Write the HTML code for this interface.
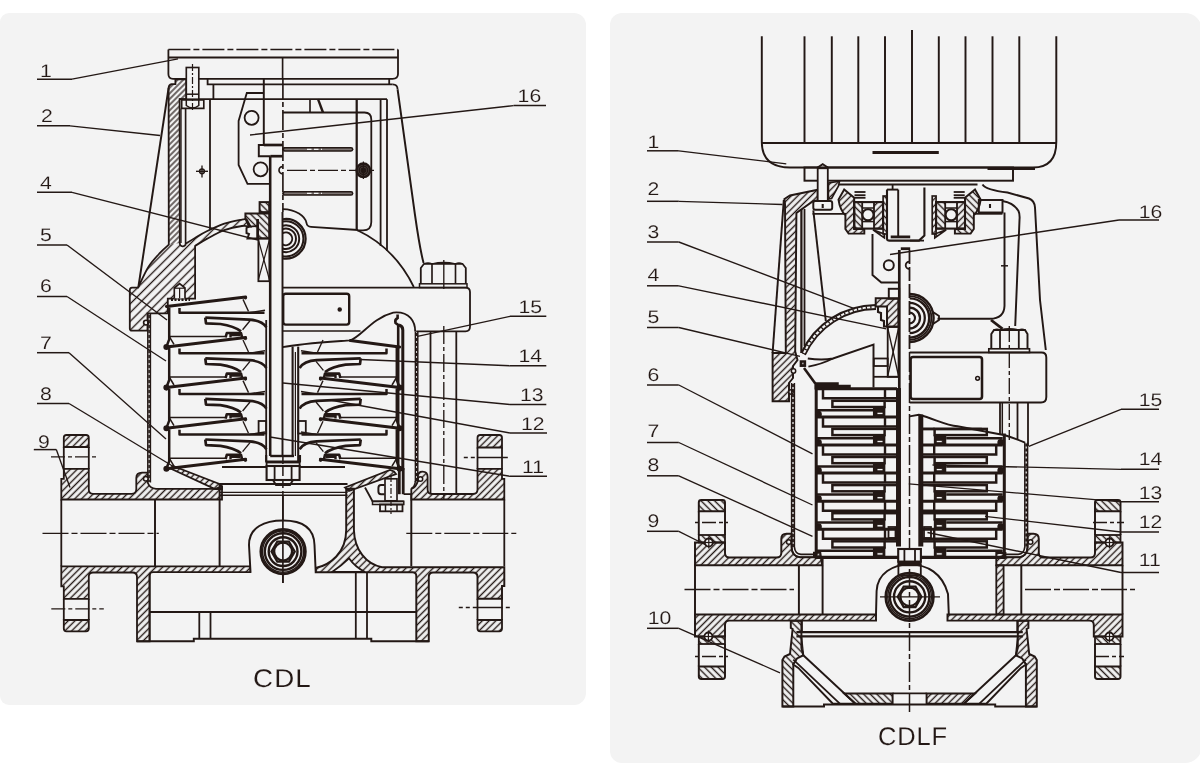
<!DOCTYPE html>
<html lang="en">
<head>
<meta charset="utf-8">
<title>CDL / CDLF structure</title>
<style>
html,body{margin:0;padding:0;background:#fff;}
body{width:1200px;height:779px;overflow:hidden;position:relative;font-family:"Liberation Sans",sans-serif;}
.panel{position:absolute;background:#f3f3f3;}
#p1{left:0;top:13px;width:585.6px;height:692px;border-radius:9px 12px 12px 9px;}
#p2{left:610px;top:13px;width:592px;height:750px;border-radius:12px 17px 17px 12px;}
svg{position:absolute;left:0;top:0;}
svg *{vector-effect:none;}
svg text{font-family:"Liberation Sans",sans-serif;fill:#231815;text-rendering:geometricPrecision;}
svg{will-change:transform;}
</style>
</head>
<body>
<div class="panel" id="p1"></div>
<div class="panel" id="p2"></div>
<svg width="1200" height="779" viewBox="0 0 1200 779">
<defs>
<pattern id="h1" width="4.7" height="4.7" patternUnits="userSpaceOnUse" patternTransform="rotate(-45)"><line x1="0" y1="2.35" x2="4.7" y2="2.35" style="stroke:#231815;stroke-width:1.4"/></pattern>
<pattern id="h2" width="4.8" height="4.8" patternUnits="userSpaceOnUse" patternTransform="rotate(-45)"><line x1="0" y1="2.4" x2="4.8" y2="2.4" style="stroke:#231815;stroke-width:1.4"/></pattern>
<pattern id="h3" width="4.7" height="4.7" patternUnits="userSpaceOnUse" patternTransform="rotate(45)"><line x1="0" y1="2.35" x2="4.7" y2="2.35" style="stroke:#231815;stroke-width:1.4"/></pattern>
<pattern id="h4" width="4.8" height="4.8" patternUnits="userSpaceOnUse" patternTransform="rotate(45)"><line x1="0" y1="2.4" x2="4.8" y2="2.4" style="stroke:#231815;stroke-width:1.4"/></pattern>
<pattern id="h5" width="4" height="4" patternUnits="userSpaceOnUse" patternTransform="rotate(-45)"><line x1="0" y1="2" x2="4" y2="2" style="stroke:#231815;stroke-width:1.25"/></pattern>
<pattern id="h6" width="6.2" height="6.2" patternUnits="userSpaceOnUse" patternTransform="rotate(-45)"><line x1="0" y1="3.1" x2="6.2" y2="3.1" style="stroke:#231815;stroke-width:1.35"/></pattern>
</defs>
<g fill="none" stroke="#231815">
<path d="M168.4,49.5 V74 Q168.4,78.8 173,78.8 H392.5 Q398,78.8 398,74 V49.5" stroke-width="1.8"/>
<line x1="168.4" y1="57.5" x2="398" y2="57.5" stroke-width="1.8"/>
<line x1="168.4" y1="49.5" x2="398" y2="49.5" stroke-width="1.65" stroke-dasharray="22 3 6 3"/>
<line x1="282.6" y1="57.5" x2="282.6" y2="79" stroke-width="1.65"/>
<line x1="282.9" y1="79" x2="282.9" y2="212" stroke-width="1.65" stroke-dasharray="20 3 5 3"/>
<line x1="282.9" y1="455" x2="282.9" y2="495" stroke-width="1.5" stroke-dasharray="9 3"/>
<line x1="282.9" y1="495" x2="282.9" y2="583" stroke-width="1.65"/>
<path d="M207.6,78.8 L207.6,84.4 L392.6,84.4" stroke-width="1.8"/>
<path d="M389.2,78.8 V84.4 M392.6,84.4 Q397.6,84.4 397.6,89.5" stroke-width="1.8"/>
<line x1="213.4" y1="84.4" x2="213.4" y2="99.2" stroke-width="1.8"/>
<line x1="179.2" y1="99.2" x2="387" y2="99.2" stroke-width="1.8"/>
<line x1="210" y1="99.2" x2="210" y2="229" stroke-width="1.8"/>
<path d="M175.4,79.4 V84.2 H171.5 Q168.8,84.6 168.6,88 L168.8,244.7 L179.8,243 L179.6,99.2 H186.3 V79.4 Z" stroke-width="1.5" fill="url(#h5)" stroke="none"/>
<path d="M179.8,243 L168.8,244.7 C167.33,246.07 163.4,249.2 160,252.9 C156.6,256.6 151.9,261.45 148.4,266.9 C144.9,272.35 140.57,282.48 139,285.6 L138,287.6 H132 Q129.8,287.8 129.8,290 V328.4 Q129.8,330.6 132,330.6 H147.5 V313.4 H167.8 V298.6 H195.1 L195.1,245.9 C197.05,244.73 201.93,241.53 206.8,238.9 C211.67,236.27 218.45,232.25 224.3,230.1 C230.15,227.95 237.52,226.58 241.9,226 C246.28,225.42 249.15,226.5 250.6,226.6 L246.5,219.3 C245.73,219.35 245.6,218.87 241.9,219.6 C238.2,220.33 230.15,221.75 224.3,223.7 C218.45,225.65 211.68,228.92 206.8,231.3 C201.92,233.68 198.5,235.95 195,238 C191.5,240.05 187.33,242.67 185.8,243.6 A3,3 0 0 1 179.8,243 Z" stroke-width="1.5" fill="url(#h6)" stroke="none"/>
<path d="M175.4,79.4 V84.2 H171.5 Q168.8,84.6 168.6,88 L168.8,244.7 C167.33,246.07 163.4,249.2 160,252.9 C156.6,256.6 151.9,261.45 148.4,266.9 C144.9,272.35 140.57,282.48 139,285.6 L138,287.6 H132 Q129.8,287.8 129.8,290 V328.4 Q129.8,330.6 132,330.6 H147.5 V313.4 H167.8 V298.6 H195.1 L195.1,245.9 C197.05,244.73 201.93,241.53 206.8,238.9 C211.67,236.27 218.45,232.25 224.3,230.1 C230.15,227.95 237.52,226.58 241.9,226 C246.28,225.42 249.15,226.5 250.6,226.6 L246.5,219.3 C245.73,219.35 245.6,218.87 241.9,219.6 C238.2,220.33 230.15,221.75 224.3,223.7 C218.45,225.65 211.68,228.92 206.8,231.3 C201.92,233.68 198.5,235.95 195,238 C191.5,240.05 187.33,242.67 185.8,243.6 A3,3 0 0 1 179.8,243 L179.6,99.2 H186.3 V79.4 Z" stroke-width="1.8"/>
<circle cx="146" cy="322.6" r="2.4" stroke-width="1.65" fill="#f3f3f3"/>
<line x1="185.6" y1="108.4" x2="185.6" y2="243.6" stroke-width="1.65"/>
<line x1="181" y1="108.4" x2="181" y2="243" stroke-width="1.35"/>
<line x1="168.6" y1="88" x2="138.4" y2="287" stroke-width="1.95"/>
<path d="M397.6,89.5 L415,215 Q420,250 423.6,263" stroke-width="1.95"/>
<rect x="186.3" y="67.5" width="12.5" height="31.7" stroke-width="1.65" fill="#f3f3f3"/>
<line x1="186.3" y1="94.2" x2="198.8" y2="94.2" stroke-width="1.5"/>
<line x1="192.5" y1="64" x2="192.5" y2="110" stroke-width="1.2" stroke-dasharray="7 2 2 2"/>
<path d="M181.7,100 H203.8 V108.4 H181.7 Z" stroke-width="1.65"/>
<path d="M186.3,100 V105.5 Q192.5,110.6 198.8,105.5 V100" stroke-width="1.5"/>
<circle cx="202" cy="171.3" r="2.4" stroke-width="1.5"/>
<line x1="196" y1="171.3" x2="208" y2="171.3" stroke-width="1.35"/>
<line x1="202" y1="165.5" x2="202" y2="177.5" stroke-width="1.35"/>
<path d="M263.8,79 L263.8,145 L258.8,145 L258.8,156.2 L270.3,156.2" stroke-width="1.95"/>
<line x1="263.8" y1="145" x2="282.6" y2="145" stroke-width="2.7"/>
<line x1="270.3" y1="156.2" x2="282.6" y2="156.2" stroke-width="2.7"/>
<line x1="270.2" y1="156.2" x2="270.2" y2="456" stroke-width="2.55"/>
<line x1="282.5" y1="212" x2="282.5" y2="455" stroke-width="1.95"/>
<path d="M263.8,93 H246.8 L238.6,121 V165 L247.5,183.8 H270" stroke-width="1.8"/>
<circle cx="251.6" cy="117.8" r="7" stroke-width="1.8"/>
<circle cx="260.6" cy="169.3" r="7" stroke-width="1.8"/>
<path d="M282.6,166.6 A3.6,3.6 0 0 0 282.6,173.8" stroke-width="1.65"/>
<path d="M282.6,112.5 H364.5 Q371.3,112.5 371.3,119.5 V222 Q371.3,230.4 363,230.4 H357" stroke-width="1.8"/>
<line x1="310" y1="99.2" x2="310" y2="112.5" stroke-width="1.65"/>
<line x1="318" y1="99.2" x2="323" y2="112.5" stroke-width="2.4"/>
<line x1="356.7" y1="99.2" x2="356.7" y2="230" stroke-width="2.25"/>
<line x1="380.6" y1="99.2" x2="380.6" y2="246" stroke-width="1.8"/>
<line x1="387" y1="99.2" x2="387" y2="251" stroke-width="1.8"/>
<line x1="284.5" y1="149.3" x2="351" y2="149.3" stroke-width="4.75" stroke-linecap="round"/>
<line x1="285" y1="149.3" x2="351" y2="149.3" stroke="#7d7472" stroke-width="1.8" stroke-linecap="round"/>
<line x1="307" y1="149.3" x2="322" y2="149.3" stroke="#f3f3f3" stroke-width="1.3" stroke-dasharray="4.5 2.5"/>
<line x1="284.5" y1="193.4" x2="351" y2="193.4" stroke-width="4.75" stroke-linecap="round"/>
<line x1="285" y1="193.4" x2="351" y2="193.4" stroke="#7d7472" stroke-width="1.8" stroke-linecap="round"/>
<line x1="307" y1="193.4" x2="322" y2="193.4" stroke="#f3f3f3" stroke-width="1.3" stroke-dasharray="4.5 2.5"/>
<line x1="287" y1="170.3" x2="374" y2="170.3" stroke-width="1.35" stroke-dasharray="20 3 5 3"/>
<circle cx="363.4" cy="170.3" r="6.8" stroke-width="2.4" fill="#4a403d"/>
<circle cx="363.4" cy="170.3" r="4.2" stroke-width="1.35"/>
<circle cx="363.4" cy="170.3" r="2" stroke-width="1.8" fill="#231815"/>
<line x1="363.4" y1="161.5" x2="363.4" y2="179" stroke-width="1.2"/>
<rect x="259.6" y="202.1" width="9.6" height="10" stroke-width="1.95" fill="url(#h3)"/>
<path d="M245.4,213.4 H269.2 V238.4 H262 L258,238.4 V226 L249,226.6 L245.4,218.6 Z" stroke-width="1.95" fill="url(#h3)"/>
<path d="M249,226.6 L246.5,228 V233 L249,234 L247.5,238.4 H258" stroke-width="1.95"/>
<line x1="257.6" y1="219" x2="257.6" y2="238.4" stroke-width="2.7"/>
<rect x="258.4" y="238.4" width="11" height="42.8" stroke-width="1.8"/>
<line x1="258.4" y1="240" x2="269.4" y2="279.5" stroke-width="1.2"/>
<line x1="269.4" y1="240" x2="258.4" y2="279.5" stroke-width="1.2"/>
<path d="M282.6,219.26 A19.8,19.8 0 1 1 282.6,258.34" stroke-width="2.25"/>
<path d="M282.6,221.49 A17.6,17.6 0 1 1 282.6,256.11" stroke-width="1.95"/>
<path d="M282.6,225.79 A13.4,13.4 0 1 1 282.6,251.81" stroke-width="1.95"/>
<path d="M282.6,229.11 A10.2,10.2 0 1 1 282.6,248.49" stroke-width="1.95"/>
<path d="M282.6,233.26 A6.4,6.4 0 1 1 282.6,244.34" stroke-width="1.95"/>
<path d="M282.6,209.2 C296,209.5 305,216 306.5,223 Q307,226.6 311,226.8 L358,230" stroke-width="1.8"/>
<path d="M357,230 Q395,248 413.8,287" stroke-width="1.8"/>
<path d="M282.6,287.6 H465.5 Q470,287.6 470,292 V326.5 Q470,331.3 465.5,331.3 H416.2" stroke-width="1.8"/>
<line x1="282.6" y1="331" x2="360.5" y2="331" stroke-width="1.5"/>
<rect x="419.5" y="283.8" width="47.5" height="3.8" stroke-width="1.5"/>
<path d="M420.8,283.8 V268 L424,263.8 H462.5 L465.8,268 V283.8" stroke-width="1.8"/>
<path d="M424,263.8 Q428,262 432,263.8 Q443.8,261 455.5,263.8 Q459,262 462.5,263.8" stroke-width="1.35"/>
<line x1="432" y1="264" x2="432" y2="283.8" stroke-width="1.65"/>
<line x1="455.5" y1="264" x2="455.5" y2="283.8" stroke-width="1.65"/>
<line x1="443.8" y1="260" x2="443.8" y2="289" stroke-width="1.35"/>
<line x1="443.8" y1="326" x2="443.8" y2="500" stroke-width="1.35" stroke-dasharray="18 3 4 3"/>
<line x1="430.5" y1="331.3" x2="430.5" y2="493.5" stroke-width="1.8"/>
<line x1="456.3" y1="331.3" x2="456.3" y2="493.5" stroke-width="1.8"/>
<rect x="283.2" y="293.8" width="66" height="30.8" stroke-width="2.4" rx="2.5"/>
<circle cx="339.7" cy="309.5" r="1.5" stroke-width="1.5" fill="#231815"/>
<path d="M282.6,347.2 C300,343.5 335,341.5 350.4,340.3 C362,336 372,318 393.2,312.6 C410,311 415.2,322 415.2,331.5" stroke-width="1.8"/>
<path d="M397.6,314.5 V318 Q394.5,319.5 395.5,323 L398.2,325 V468" stroke-width="2.59"/>
<path d="M399,325 Q402.8,326 402.8,330 V470" stroke-width="3"/>
<line x1="415.4" y1="331.5" x2="415.4" y2="482" stroke-width="1.5"/>
<line x1="417.8" y1="331.5" x2="417.8" y2="482" stroke-width="1.5"/>
<line x1="416.6" y1="333" x2="416.6" y2="482" stroke-width="1.5" stroke-dasharray="3 2"/>
<line x1="147.8" y1="313.4" x2="147.8" y2="482.5" stroke-width="1.5"/>
<line x1="150.4" y1="313.4" x2="150.4" y2="482.5" stroke-width="1.5"/>
<line x1="149.1" y1="315" x2="149.1" y2="482" stroke-width="1.5" stroke-dasharray="3 2"/>
<path d="M174.3,298.4 V288 L179.6,283.6 L185,288 V298.4" stroke-width="1.65" fill="#f3f3f3"/>
<line x1="179.6" y1="288" x2="179.6" y2="298" stroke-width="1.2"/>
<line x1="174.3" y1="288.2" x2="185" y2="288.2" stroke-width="1.2"/>
<line x1="171" y1="299.8" x2="190" y2="299.8" stroke-width="2.4" stroke-dasharray="2 1.5"/>
<line x1="166.4" y1="306.4" x2="245.6" y2="296.9" stroke-width="3.02" stroke-linecap="round"/>
<circle cx="245.4" cy="297.8" r="1.3" stroke-width="0.9" fill="#231815"/>
<path d="M179.5,307.9 L179.5,312.7 L264.5,312.7" stroke-width="2.48" stroke-linejoin="round"/>
<line x1="249.4" y1="312.7" x2="265" y2="310.2" stroke-width="1.5"/>
<line x1="243" y1="299.4" x2="248.5" y2="311.4" stroke-width="1.35"/>
<path d="M169.2,307.4 L169.2,339.4 L166.6,346.4" stroke-width="2.48" stroke-linejoin="round"/>
<line x1="169.2" y1="336.4" x2="226" y2="336.4" stroke-width="1.5"/>
<line x1="169.2" y1="336.4" x2="174" y2="344.4" stroke-width="1.5"/>
<path d="M205.3,317.7 L249.4,319.6 Q262,320.4 266.4,327.4" stroke-width="2.7" stroke-linejoin="round"/>
<path d="M205.3,317.7 L206,323.4 L220.4,324 Q234,325.9 241,331.4" stroke-width="2.7" stroke-linejoin="round"/>
<path d="M225.6,337.4 L226.8,333 L241,333 L242.2,337.9" stroke-width="2.59" stroke-linejoin="round"/>
<path d="M230.5,337.4 L230.5,335 L240.5,335" stroke-width="2.4"/>
<line x1="250" y1="320.8" x2="242.6" y2="329.8" stroke-width="1.35"/>
<line x1="166.4" y1="347" x2="245.6" y2="337.5" stroke-width="3.02" stroke-linecap="round"/>
<circle cx="245.4" cy="338.4" r="1.3" stroke-width="0.9" fill="#231815"/>
<circle cx="166.4" cy="347" r="2.3" stroke-width="1.5" fill="#231815"/>
<path d="M179.5,348.5 L179.5,353.3 L264.5,353.3" stroke-width="2.48" stroke-linejoin="round"/>
<line x1="249.4" y1="353.3" x2="265" y2="350.8" stroke-width="1.5"/>
<line x1="243" y1="340" x2="248.5" y2="352" stroke-width="1.35"/>
<path d="M169.2,348 L169.2,380 L166.6,387" stroke-width="2.48" stroke-linejoin="round"/>
<line x1="169.2" y1="377" x2="226" y2="377" stroke-width="1.5"/>
<line x1="169.2" y1="377" x2="174" y2="385" stroke-width="1.5"/>
<path d="M205.3,358.3 L249.4,360.2 Q262,361 266.4,368" stroke-width="2.7" stroke-linejoin="round"/>
<path d="M205.3,358.3 L206,364 L220.4,364.6 Q234,366.5 241,372" stroke-width="2.7" stroke-linejoin="round"/>
<path d="M225.6,378 L226.8,373.6 L241,373.6 L242.2,378.5" stroke-width="2.59" stroke-linejoin="round"/>
<path d="M230.5,378 L230.5,375.6 L240.5,375.6" stroke-width="2.4"/>
<line x1="250" y1="361.4" x2="242.6" y2="370.4" stroke-width="1.35"/>
<line x1="166.4" y1="387.6" x2="245.6" y2="378.1" stroke-width="3.02" stroke-linecap="round"/>
<circle cx="245.4" cy="379" r="1.3" stroke-width="0.9" fill="#231815"/>
<circle cx="166.4" cy="387.6" r="2.3" stroke-width="1.5" fill="#231815"/>
<path d="M179.5,389.1 L179.5,393.9 L264.5,393.9" stroke-width="2.48" stroke-linejoin="round"/>
<line x1="249.4" y1="393.9" x2="265" y2="391.4" stroke-width="1.5"/>
<line x1="243" y1="380.6" x2="248.5" y2="392.6" stroke-width="1.35"/>
<path d="M169.2,388.6 L169.2,420.6 L166.6,427.6" stroke-width="2.48" stroke-linejoin="round"/>
<line x1="169.2" y1="417.6" x2="226" y2="417.6" stroke-width="1.5"/>
<line x1="169.2" y1="417.6" x2="174" y2="425.6" stroke-width="1.5"/>
<path d="M205.3,398.9 L249.4,400.8 Q262,401.6 266.4,408.6" stroke-width="2.7" stroke-linejoin="round"/>
<path d="M205.3,398.9 L206,404.6 L220.4,405.2 Q234,407.1 241,412.6" stroke-width="2.7" stroke-linejoin="round"/>
<path d="M225.6,418.6 L226.8,414.2 L241,414.2 L242.2,419.1" stroke-width="2.59" stroke-linejoin="round"/>
<path d="M230.5,418.6 L230.5,416.2 L240.5,416.2" stroke-width="2.4"/>
<line x1="250" y1="402" x2="242.6" y2="411" stroke-width="1.35"/>
<line x1="166.4" y1="428.2" x2="245.6" y2="418.7" stroke-width="3.02" stroke-linecap="round"/>
<circle cx="245.4" cy="419.6" r="1.3" stroke-width="0.9" fill="#231815"/>
<circle cx="166.4" cy="428.2" r="2.3" stroke-width="1.5" fill="#231815"/>
<path d="M179.5,429.7 L179.5,434.5 L264.5,434.5" stroke-width="2.48" stroke-linejoin="round"/>
<line x1="249.4" y1="434.5" x2="265" y2="432" stroke-width="1.5"/>
<line x1="243" y1="421.2" x2="248.5" y2="433.2" stroke-width="1.35"/>
<path d="M169.2,429.2 L169.2,461.2 L166.6,468.2" stroke-width="2.48" stroke-linejoin="round"/>
<line x1="169.2" y1="458.2" x2="226" y2="458.2" stroke-width="1.5"/>
<line x1="169.2" y1="458.2" x2="174" y2="466.2" stroke-width="1.5"/>
<path d="M205.3,439.5 L249.4,441.4 Q262,442.2 266.4,449.2" stroke-width="2.7" stroke-linejoin="round"/>
<path d="M205.3,439.5 L206,445.2 L220.4,445.8 Q234,447.7 241,453.2" stroke-width="2.7" stroke-linejoin="round"/>
<path d="M225.6,459.2 L226.8,454.8 L241,454.8 L242.2,459.7" stroke-width="2.59" stroke-linejoin="round"/>
<path d="M230.5,459.2 L230.5,456.8 L240.5,456.8" stroke-width="2.4"/>
<line x1="250" y1="442.6" x2="242.6" y2="451.6" stroke-width="1.35"/>
<line x1="166.4" y1="468.8" x2="245.6" y2="459.3" stroke-width="3.02" stroke-linecap="round"/>
<circle cx="245.4" cy="460.2" r="1.3" stroke-width="0.9" fill="#231815"/>
<circle cx="166.4" cy="468.8" r="2.3" stroke-width="1.5" fill="#231815"/>
<path d="M386.5,348.5 L386.5,353.3 L301.5,353.3" stroke-width="2.48" stroke-linejoin="round"/>
<line x1="316.6" y1="353.3" x2="301" y2="350.8" stroke-width="1.5"/>
<line x1="323" y1="340" x2="317.5" y2="352" stroke-width="1.35"/>
<path d="M396.8,348 L396.8,380 L399.4,387" stroke-width="2.48" stroke-linejoin="round"/>
<line x1="396.8" y1="377" x2="340" y2="377" stroke-width="1.5"/>
<line x1="396.8" y1="377" x2="392" y2="385" stroke-width="1.5"/>
<path d="M360.7,358.3 L316.6,360.2 Q304,361 299.6,368" stroke-width="2.7" stroke-linejoin="round"/>
<path d="M360.7,358.3 L360,364 L345.6,364.6 Q332,366.5 325,372" stroke-width="2.7" stroke-linejoin="round"/>
<path d="M340.4,378 L339.2,373.6 L325,373.6 L323.8,378.5" stroke-width="2.59" stroke-linejoin="round"/>
<path d="M335.5,378 L335.5,375.6 L325.5,375.6" stroke-width="2.4"/>
<line x1="316" y1="361.4" x2="323.4" y2="370.4" stroke-width="1.35"/>
<line x1="399.6" y1="347" x2="350.4" y2="340.6" stroke-width="3.02" stroke-linecap="round"/>
<line x1="399.6" y1="387.6" x2="320.4" y2="378.1" stroke-width="3.02" stroke-linecap="round"/>
<circle cx="320.6" cy="379" r="1.3" stroke-width="0.9" fill="#231815"/>
<circle cx="399.6" cy="387.6" r="2.3" stroke-width="1.5" fill="#231815"/>
<path d="M386.5,389.1 L386.5,393.9 L301.5,393.9" stroke-width="2.48" stroke-linejoin="round"/>
<line x1="316.6" y1="393.9" x2="301" y2="391.4" stroke-width="1.5"/>
<line x1="323" y1="380.6" x2="317.5" y2="392.6" stroke-width="1.35"/>
<path d="M396.8,388.6 L396.8,420.6 L399.4,427.6" stroke-width="2.48" stroke-linejoin="round"/>
<line x1="396.8" y1="417.6" x2="340" y2="417.6" stroke-width="1.5"/>
<line x1="396.8" y1="417.6" x2="392" y2="425.6" stroke-width="1.5"/>
<path d="M360.7,398.9 L316.6,400.8 Q304,401.6 299.6,408.6" stroke-width="2.7" stroke-linejoin="round"/>
<path d="M360.7,398.9 L360,404.6 L345.6,405.2 Q332,407.1 325,412.6" stroke-width="2.7" stroke-linejoin="round"/>
<path d="M340.4,418.6 L339.2,414.2 L325,414.2 L323.8,419.1" stroke-width="2.59" stroke-linejoin="round"/>
<path d="M335.5,418.6 L335.5,416.2 L325.5,416.2" stroke-width="2.4"/>
<line x1="316" y1="402" x2="323.4" y2="411" stroke-width="1.35"/>
<line x1="399.6" y1="428.2" x2="320.4" y2="418.7" stroke-width="3.02" stroke-linecap="round"/>
<circle cx="320.6" cy="419.6" r="1.3" stroke-width="0.9" fill="#231815"/>
<circle cx="399.6" cy="428.2" r="2.3" stroke-width="1.5" fill="#231815"/>
<path d="M386.5,429.7 L386.5,434.5 L301.5,434.5" stroke-width="2.48" stroke-linejoin="round"/>
<line x1="316.6" y1="434.5" x2="301" y2="432" stroke-width="1.5"/>
<line x1="323" y1="421.2" x2="317.5" y2="433.2" stroke-width="1.35"/>
<path d="M396.8,429.2 L396.8,461.2 L399.4,468.2" stroke-width="2.48" stroke-linejoin="round"/>
<line x1="396.8" y1="458.2" x2="340" y2="458.2" stroke-width="1.5"/>
<line x1="396.8" y1="458.2" x2="392" y2="466.2" stroke-width="1.5"/>
<path d="M360.7,439.5 L316.6,441.4 Q304,442.2 299.6,449.2" stroke-width="2.7" stroke-linejoin="round"/>
<path d="M360.7,439.5 L360,445.2 L345.6,445.8 Q332,447.7 325,453.2" stroke-width="2.7" stroke-linejoin="round"/>
<path d="M340.4,459.2 L339.2,454.8 L325,454.8 L323.8,459.7" stroke-width="2.59" stroke-linejoin="round"/>
<path d="M335.5,459.2 L335.5,456.8 L325.5,456.8" stroke-width="2.4"/>
<line x1="316" y1="442.6" x2="323.4" y2="451.6" stroke-width="1.35"/>
<line x1="399.6" y1="468.8" x2="320.4" y2="459.3" stroke-width="3.02" stroke-linecap="round"/>
<circle cx="320.6" cy="460.2" r="1.3" stroke-width="0.9" fill="#231815"/>
<circle cx="399.6" cy="468.8" r="2.3" stroke-width="1.5" fill="#231815"/>
<line x1="266.2" y1="320" x2="266.2" y2="461.5" stroke-width="1.8"/>
<line x1="292.6" y1="346.6" x2="292.6" y2="456" stroke-width="2.1"/>
<line x1="298.2" y1="346.6" x2="298.2" y2="461.5" stroke-width="2.1"/>
<line x1="295.4" y1="352" x2="295.4" y2="456" stroke-width="1.2"/>
<rect x="258.6" y="421" width="7.6" height="12.5" stroke-width="1.8"/>
<rect x="298.2" y="421" width="7.6" height="12.5" stroke-width="1.8"/>
<line x1="270.2" y1="456" x2="294" y2="456" stroke-width="2.4"/>
<path d="M266.2,455 V461.5 H300 V455" stroke-width="2.1"/>
<rect x="266.6" y="462.5" width="33" height="3.5" stroke-width="1.8"/>
<rect x="266.6" y="466" width="33" height="14" stroke-width="2.1"/>
<line x1="274.6" y1="466" x2="274.6" y2="480" stroke-width="1.8"/>
<line x1="291.6" y1="466" x2="291.6" y2="480" stroke-width="1.8"/>
<path d="M273,480 L276,485 H290 L293,480" stroke-width="1.95"/>
<line x1="222" y1="467" x2="266.6" y2="467" stroke-width="2.1"/>
<line x1="299.6" y1="467" x2="345" y2="467" stroke-width="2.1"/>
<line x1="219.6" y1="484" x2="347.5" y2="484" stroke-width="2.1"/>
<line x1="219.6" y1="492.3" x2="347.5" y2="492.3" stroke-width="1.35"/>
<line x1="219.6" y1="495.2" x2="347.5" y2="495.2" stroke-width="1.35"/>
<path d="M170.5,468.5 L173,466 L219.5,484 L222,486.5 V489 H215 Z" stroke-width="1.8" fill="url(#h2)"/>
<path d="M66.5,435 H86 Q88.8,435 88.8,437.8 V447 H63.8 V437.8 Q63.8,435 66.5,435 Z" stroke-width="1.8" fill="url(#h2)"/>
<line x1="63.8" y1="447" x2="63.8" y2="468.8" stroke-width="1.8"/>
<line x1="88.8" y1="447" x2="88.8" y2="468.8" stroke-width="1.8"/>
<line x1="51" y1="456.8" x2="97.5" y2="456.8" stroke-width="1.35" stroke-dasharray="14 3 4 3"/>
<path d="M63.8,468.8 H88.8 V489.5 Q88.8,493.8 93,493.8 H131.5 Q136.3,493.8 136.3,489 V478 Q136.3,472.6 142,472.6 H147.6 V482.5 Q150,488.6 156,488.8 H215 L222,486.5 V499.5 H61.3 V478.8 H63.8 Z" stroke-width="1.8" fill="url(#h2)"/>
<circle cx="145.8" cy="478.8" r="2.3" stroke-width="1.5" fill="#f3f3f3"/>
<line x1="61.3" y1="499.5" x2="61.3" y2="566.3" stroke-width="1.8"/>
<line x1="155" y1="499.5" x2="155" y2="566.3" stroke-width="1.95"/>
<line x1="219.6" y1="484" x2="219.6" y2="566.3" stroke-width="1.95"/>
<line x1="42.5" y1="533.3" x2="158.8" y2="533.3" stroke-width="1.35" stroke-dasharray="26 3 6 3"/>
<path d="M61.3,566.3 H250.5 V572.2 H153 Q149.6,572.2 149.6,575.5 V641.3 H137 V577 Q137,572.5 132.5,572.5 H93 Q88.8,572.5 88.8,576.5 V598.8 H63.8 V586.3 H61.3 Z" stroke-width="1.8" fill="url(#h2)"/>
<line x1="63.8" y1="598.8" x2="63.8" y2="620" stroke-width="1.8"/>
<line x1="88.8" y1="598.8" x2="88.8" y2="620" stroke-width="1.8"/>
<path d="M63.8,620 H88.8 V628.5 Q88.8,631.3 86,631.3 H66.5 Q63.8,631.3 63.8,628.5 Z" stroke-width="1.8" fill="url(#h2)"/>
<line x1="51.3" y1="608.8" x2="103.8" y2="608.8" stroke-width="1.35" stroke-dasharray="14 3 4 3"/>
<path d="M346.2,488.8 H353.9 V530 C354.5,550 366,564 382,567.3 H504.3 V586 H502 V598.8 H477.5 V577 Q477.5,572.5 473,572.5 H433 Q428.8,572.5 428.8,577 V641.3 H416.3 V576 Q416.3,572.2 412.5,572.2 H315.7 V568 C330,565 346.2,553 346.2,530 Z" stroke-width="1.95" fill="url(#h2)"/>
<path d="M349,558.3 Q341,566 332,572 H365 Q355,567 349,558.3 Z" stroke-width="1.8" fill="#f3f3f3"/>
<line x1="477.5" y1="598.8" x2="477.5" y2="620" stroke-width="1.8"/>
<line x1="502" y1="598.8" x2="502" y2="620" stroke-width="1.8"/>
<path d="M477.5,620 H502 V628.5 Q502,631.3 499.3,631.3 H480.3 Q477.5,631.3 477.5,628.5 Z" stroke-width="1.8" fill="url(#h2)"/>
<line x1="458.8" y1="607.5" x2="511.3" y2="607.5" stroke-width="1.35" stroke-dasharray="4 3 4 3 30 3"/>
<path d="M480.3,435 H499.3 Q502,435 502,437.8 V447.5 H477.5 V437.8 Q477.5,435 480.3,435 Z" stroke-width="1.8" fill="url(#h2)"/>
<line x1="477.5" y1="447.5" x2="477.5" y2="468.8" stroke-width="1.8"/>
<line x1="502" y1="447.5" x2="502" y2="468.8" stroke-width="1.8"/>
<line x1="463.8" y1="457.5" x2="510" y2="457.5" stroke-width="1.35" stroke-dasharray="4 3 4 3 30 3"/>
<path d="M477.5,468.8 H502 V478.8 H504.3 V499.5 H411.3 V489 Q416.5,487 417.8,480.5 V476.5 Q417.8,471.7 422.5,471.7 Q427.6,471.7 427.6,477 V489.5 Q427.6,494 432,494 H473 Q477.5,494 477.5,489.5 Z" stroke-width="1.8" fill="url(#h2)"/>
<path d="M415.4,481 Q415,486.5 411.3,488.4" stroke-width="1.5"/>
<circle cx="420.4" cy="479" r="2.3" stroke-width="1.5" fill="#f3f3f3"/>
<line x1="504.3" y1="499.5" x2="504.3" y2="566.3" stroke-width="1.8"/>
<line x1="411.3" y1="499.5" x2="411.3" y2="566.3" stroke-width="1.95"/>
<line x1="406.3" y1="533.3" x2="516.3" y2="533.3" stroke-width="1.35" stroke-dasharray="26 3 6 3"/>
<line x1="403.2" y1="468" x2="403.2" y2="494.2" stroke-width="2.81"/>
<line x1="399.3" y1="466" x2="399.3" y2="494.2" stroke-width="2.81"/>
<path d="M403.6,494.2 L411.3,494.2 L411.3,499.5" stroke-width="1.8"/>
<path d="M345,487.5 L390,470 L394,471.5 L396,474 L349,491 Z" stroke-width="1.8" fill="url(#h2)"/>
<path d="M365,487.5 L372.5,501.3 H403.8" stroke-width="1.8"/>
<rect x="385" y="478.8" width="12" height="22" stroke-width="1.65" fill="#f3f3f3"/>
<line x1="391" y1="476" x2="391" y2="514" stroke-width="1.2" stroke-dasharray="6 2 2 2"/>
<rect x="372.5" y="501.3" width="31.3" height="3.2" stroke-width="1.5"/>
<rect x="380" y="504.5" width="22.5" height="6.8" stroke-width="1.8"/>
<path d="M384.6,485 H381 Q378.4,485 378.4,488 V491.5 Q378.4,494.2 381,494.2 H384.6" stroke-width="1.95"/>
<line x1="385.5" y1="504.5" x2="385.5" y2="511.3" stroke-width="1.5"/>
<line x1="397" y1="504.5" x2="397" y2="511.3" stroke-width="1.5"/>
<path d="M137,641.3 L193.8,641.3 L193.8,638.8 L371.3,638.8 L371.3,641.3 L428.8,641.3" stroke-width="1.95"/>
<line x1="149.6" y1="612" x2="416.3" y2="612" stroke-width="1.95"/>
<line x1="149.6" y1="573.6" x2="149.6" y2="641" stroke-width="1.8"/>
<line x1="199.3" y1="612" x2="199.3" y2="638.8" stroke-width="1.8"/>
<line x1="210.5" y1="612" x2="210.5" y2="638.8" stroke-width="1.8"/>
<line x1="355.8" y1="572.5" x2="355.8" y2="638.8" stroke-width="1.8"/>
<line x1="367" y1="572.5" x2="367" y2="638.8" stroke-width="1.8"/>
<path d="M250.5,572 L249,545 C249,527 265,520.5 283,520.5 C301,520.5 314,527 314.5,545 L315.7,572" stroke-width="1.95" fill="#f3f3f3"/>
<line x1="282.9" y1="495" x2="282.9" y2="583" stroke-width="1.65"/>
<circle cx="283.1" cy="551.6" r="22.3" stroke-width="2.7"/>
<circle cx="283.1" cy="551.6" r="20.6" stroke-width="1.5"/>
<circle cx="283.1" cy="551.6" r="18.3" stroke-width="2.4"/>
<circle cx="283.1" cy="551.6" r="14.4" stroke-width="2.4"/>
<circle cx="283.1" cy="551.6" r="9" stroke-width="2.4"/>
<path d="M294.7,551.6 L288.9,561.65 L277.3,561.65 L271.5,551.6 L277.3,541.55 L288.9,541.55 Z" stroke-width="2.25"/>
<line x1="37" y1="79.2" x2="72" y2="79.2" stroke-width="1.5"/>
<line x1="72" y1="79.2" x2="178" y2="58.8" stroke-width="1.35"/>
<text transform="translate(40,77) scale(1.16,1)" font-size="18.3" text-anchor="start" stroke="#f3f3f3" stroke-width="0.12">1</text>
<line x1="37" y1="125.8" x2="70" y2="125.8" stroke-width="1.5"/>
<line x1="70" y1="125.8" x2="160" y2="135.5" stroke-width="1.35"/>
<text transform="translate(41,122) scale(1.16,1)" font-size="18.3" text-anchor="start" stroke="#f3f3f3" stroke-width="0.12">2</text>
<line x1="37" y1="192.3" x2="72" y2="192.3" stroke-width="1.5"/>
<line x1="72" y1="192.3" x2="258" y2="240" stroke-width="1.35"/>
<text transform="translate(40,188.5) scale(1.16,1)" font-size="18.3" text-anchor="start" stroke="#f3f3f3" stroke-width="0.12">4</text>
<line x1="37" y1="245" x2="67" y2="245" stroke-width="1.5"/>
<line x1="67" y1="245" x2="167" y2="320" stroke-width="1.35"/>
<text transform="translate(40,241) scale(1.16,1)" font-size="18.3" text-anchor="start" stroke="#f3f3f3" stroke-width="0.12">5</text>
<line x1="37" y1="296.5" x2="67" y2="296.5" stroke-width="1.5"/>
<line x1="67" y1="296.5" x2="166" y2="361" stroke-width="1.35"/>
<text transform="translate(40,292) scale(1.16,1)" font-size="18.3" text-anchor="start" stroke="#f3f3f3" stroke-width="0.12">6</text>
<line x1="37" y1="352.7" x2="69" y2="352.7" stroke-width="1.5"/>
<line x1="69" y1="352.7" x2="166" y2="439" stroke-width="1.35"/>
<text transform="translate(40,349) scale(1.16,1)" font-size="18.3" text-anchor="start" stroke="#f3f3f3" stroke-width="0.12">7</text>
<line x1="37" y1="403.5" x2="69" y2="403.5" stroke-width="1.5"/>
<line x1="69" y1="403.5" x2="172.5" y2="466" stroke-width="1.35"/>
<text transform="translate(40,400) scale(1.16,1)" font-size="18.3" text-anchor="start" stroke="#f3f3f3" stroke-width="0.12">8</text>
<line x1="33.8" y1="449.6" x2="56.3" y2="449.6" stroke-width="1.5"/>
<line x1="56.3" y1="449.6" x2="70" y2="487.5" stroke-width="1.35"/>
<text transform="translate(38,447.5) scale(1.16,1)" font-size="18.3" text-anchor="start" stroke="#f3f3f3" stroke-width="0.12">9</text>
<line x1="513.5" y1="105.6" x2="546" y2="105.6" stroke-width="1.5"/>
<line x1="513.5" y1="105.6" x2="250" y2="135" stroke-width="1.35"/>
<text transform="translate(517.6,102) scale(1.16,1)" font-size="18.3" text-anchor="start" stroke="#f3f3f3" stroke-width="0.12">16</text>
<line x1="510" y1="316.3" x2="546.3" y2="316.3" stroke-width="1.5"/>
<line x1="510" y1="316.3" x2="417.5" y2="336.3" stroke-width="1.35"/>
<text transform="translate(518.5,313) scale(1.16,1)" font-size="18.3" text-anchor="start" stroke="#f3f3f3" stroke-width="0.12">15</text>
<line x1="510" y1="365.8" x2="546.3" y2="365.8" stroke-width="1.5"/>
<line x1="510" y1="365.8" x2="360" y2="359.5" stroke-width="1.35"/>
<text transform="translate(518.5,362) scale(1.16,1)" font-size="18.3" text-anchor="start" stroke="#f3f3f3" stroke-width="0.12">14</text>
<line x1="510" y1="404.5" x2="546.3" y2="404.5" stroke-width="1.5"/>
<line x1="510" y1="404.5" x2="283" y2="383" stroke-width="1.35"/>
<text transform="translate(520,401.3) scale(1.16,1)" font-size="18.3" text-anchor="start" stroke="#f3f3f3" stroke-width="0.12">13</text>
<line x1="510" y1="433" x2="547" y2="433" stroke-width="1.5"/>
<line x1="510" y1="433" x2="330" y2="400" stroke-width="1.35"/>
<text transform="translate(521,429.5) scale(1.16,1)" font-size="18.3" text-anchor="start" stroke="#f3f3f3" stroke-width="0.12">12</text>
<line x1="510" y1="476.3" x2="547" y2="476.3" stroke-width="1.5"/>
<line x1="510" y1="476.3" x2="270" y2="437" stroke-width="1.35"/>
<text transform="translate(522,472.5) scale(1.16,1)" font-size="18.3" text-anchor="start" stroke="#f3f3f3" stroke-width="0.12">11</text>
<text transform="translate(253,687) scale(1.09,1)" font-size="25.5" text-anchor="start" stroke="#f3f3f3" stroke-width="0.12" letter-spacing="1">CDL</text>
<path d="M761.8,36.3 V142 Q762,167.5 790,167.5 H1033 Q1056.3,167.5 1056.3,142 V36.3" stroke-width="1.95"/>
<line x1="761.8" y1="143" x2="1056.3" y2="143" stroke-width="1.95"/>
<line x1="804.5" y1="36.3" x2="804.5" y2="143" stroke-width="1.95"/>
<line x1="831.8" y1="36.3" x2="831.8" y2="143" stroke-width="1.95"/>
<line x1="858.3" y1="36.3" x2="858.3" y2="143" stroke-width="1.95"/>
<line x1="885" y1="36.3" x2="885" y2="143" stroke-width="1.95"/>
<line x1="938.8" y1="36.3" x2="938.8" y2="143" stroke-width="1.95"/>
<line x1="965.5" y1="36.3" x2="965.5" y2="143" stroke-width="1.95"/>
<line x1="992.5" y1="36.3" x2="992.5" y2="143" stroke-width="1.95"/>
<line x1="1019.3" y1="36.3" x2="1019.3" y2="143" stroke-width="1.95"/>
<line x1="912" y1="30" x2="912" y2="143" stroke-width="1.95"/>
<line x1="872.5" y1="152.5" x2="938.8" y2="152.5" stroke-width="3.02"/>
<line x1="987.5" y1="168.8" x2="1035" y2="168.8" stroke-width="2.38"/>
<rect x="804.5" y="167.5" width="208.5" height="13.2" stroke-width="1.95"/>
<line x1="839" y1="184.5" x2="977.5" y2="184.5" stroke-width="1.95"/>
<path d="M784.4,199 L790,195.5 L817.7,189.8 V200.5 L813.3,201 L796.4,213 L795.2,351.6 L797.5,360 L793,366 V378 L789,383 V401.3 H772.6 V353 H785.8 L785,204 Z" stroke-width="1.95" fill="url(#h1)"/>
<line x1="783.8" y1="200" x2="772.6" y2="353" stroke-width="1.95"/>
<circle cx="793.5" cy="371" r="2.2" stroke-width="1.5" fill="#f3f3f3"/>
<circle cx="791" cy="392" r="2.2" stroke-width="1.5" fill="#f3f3f3"/>
<path d="M817.7,200.5 V167.5 L822.7,164.2 L827.8,167.5 V200.5" stroke-width="1.8" fill="#f3f3f3"/>
<line x1="817.7" y1="167.8" x2="827.8" y2="167.8" stroke-width="2.7"/>
<rect x="813.3" y="200.9" width="18.9" height="8.8" stroke-width="1.95" rx="2"/>
<line x1="822.7" y1="204" x2="822.7" y2="208" stroke-width="2.1"/>
<path d="M828.4,183 L839.5,181.2 L838.5,186 L831.6,198.5 L828.4,199 Z" stroke-width="1.65" fill="url(#h1)"/>
<line x1="801.4" y1="209" x2="801.4" y2="353" stroke-width="2.25"/>
<line x1="804.5" y1="209" x2="804.5" y2="346" stroke-width="1.8"/>
<line x1="813.3" y1="210.3" x2="825.8" y2="321" stroke-width="1.95"/>
<line x1="812.5" y1="213.8" x2="846" y2="213.8" stroke-width="1.8"/>
<path d="M844.2,189.6 L838.5,199.6 Q840,210 845.4,215.3 V229 L848.6,233.6 H864.3 V229 H854.2 V197.7 Z" stroke-width="1.95" fill="url(#h1)"/>
<rect x="854.2" y="202.1" width="28.9" height="26.5" stroke-width="2.1"/>
<rect x="854.2" y="202.1" width="8" height="26.5" stroke-width="1.8" fill="url(#h3)"/>
<rect x="874" y="202.1" width="9.1" height="26.5" stroke-width="1.8" fill="url(#h1)"/>
<circle cx="868" cy="214.8" r="5.6" stroke-width="2.1" fill="#f3f3f3"/>
<line x1="862.2" y1="208" x2="874" y2="208" stroke-width="1.5"/>
<line x1="862.2" y1="221.6" x2="874" y2="221.6" stroke-width="1.5"/>
<line x1="854.5" y1="192" x2="865.5" y2="192" stroke-width="1.8"/>
<line x1="854.5" y1="195.2" x2="865.5" y2="195.2" stroke-width="1.8"/>
<line x1="854.5" y1="197.8" x2="865.5" y2="197.8" stroke-width="1.8"/>
<rect x="883.1" y="196" width="3.9" height="38" stroke-width="1.65" fill="url(#h3)"/>
<path d="M873,229.8 L884.4,238 L884.4,234 Z" stroke-width="1.65" fill="url(#h1)"/>
<path d="M975,189.6 L980.7,199.6 Q979.2,210 973.8,215.3 V229 L970.6,233.6 H954.9 V229 H965 V197.7 Z" stroke-width="1.95" fill="url(#h3)"/>
<rect x="936.1" y="202.1" width="28.9" height="26.5" stroke-width="2.1"/>
<rect x="957" y="202.1" width="8" height="26.5" stroke-width="1.8" fill="url(#h1)"/>
<rect x="936.1" y="202.1" width="9.1" height="26.5" stroke-width="1.8" fill="url(#h3)"/>
<circle cx="951.2" cy="214.8" r="5.6" stroke-width="2.1" fill="#f3f3f3"/>
<line x1="957" y1="208" x2="945.2" y2="208" stroke-width="1.5"/>
<line x1="957" y1="221.6" x2="945.2" y2="221.6" stroke-width="1.5"/>
<line x1="964.7" y1="192" x2="953.7" y2="192" stroke-width="1.8"/>
<line x1="964.7" y1="195.2" x2="953.7" y2="195.2" stroke-width="1.8"/>
<line x1="964.7" y1="197.8" x2="953.7" y2="197.8" stroke-width="1.8"/>
<rect x="932.2" y="196" width="3.9" height="38" stroke-width="1.65" fill="url(#h1)"/>
<path d="M946.2,229.8 L934.8,238 L934.8,234 Z" stroke-width="1.65" fill="url(#h3)"/>
<path d="M887,189.6 V238.8 Q887.2,240.6 889.5,240.6 H919 L924.4,235.5 V187.5" stroke-width="2.1"/>
<line x1="887" y1="189.6" x2="898.2" y2="189.6" stroke-width="1.95"/>
<line x1="898.2" y1="189.6" x2="898.2" y2="237" stroke-width="1.95"/>
<line x1="892.6" y1="184.5" x2="892.6" y2="189.6" stroke-width="1.8"/>
<line x1="890.7" y1="236.9" x2="910.2" y2="236.9" stroke-width="2.81"/>
<line x1="900.8" y1="248.7" x2="910.2" y2="248.7" stroke-width="2.81"/>
<path d="M872.5,234 V275 L881.3,282.5 H899" stroke-width="1.95"/>
<circle cx="888.8" cy="265.3" r="5" stroke-width="1.95"/>
<path d="M909.4,261.6 A3.7,3.7 0 0 0 909.4,269" stroke-width="1.8"/>
<line x1="899.3" y1="250" x2="899.3" y2="388" stroke-width="2.7"/>
<line x1="909.5" y1="250" x2="909.5" y2="352" stroke-width="1.8" stroke-dasharray="14 3"/>
<line x1="909.5" y1="352" x2="909.5" y2="712" stroke-width="1.5" stroke-dasharray="20 3 5 3"/>
<rect x="888.8" y="288.8" width="10.4" height="10" stroke-width="1.95"/>
<path d="M875.7,298.2 H898.4 V326.5 H887 V306.4 H875.7 Z" stroke-width="1.95" fill="url(#h1)"/>
<path d="M878,306.4 V312 L881,313 V320 L884,321 V326.5 H887" stroke-width="2.1"/>
<rect x="887.7" y="327" width="10.9" height="49.8" stroke-width="1.8"/>
<line x1="887.7" y1="328" x2="898.6" y2="376" stroke-width="1.35"/>
<line x1="898.6" y1="328" x2="887.7" y2="376" stroke-width="1.35"/>
<rect x="873.8" y="358.5" width="13.9" height="7.5" stroke-width="1.8"/>
<line x1="873.8" y1="376.8" x2="898.6" y2="376.8" stroke-width="1.8"/>
<path d="M801.5,353 A82.6,82.6 0 0 1 875.7,305" stroke-width="2.1"/>
<path d="M805,355 A78.6,78.6 0 0 1 876,309" stroke-width="1.8"/>
<path d="M803.3,354 A80.6,80.6 0 0 1 875.8,307" stroke-width="2.81" stroke-dasharray="1.3 3.2"/>
<path d="M807.8,358.5 Q822,360.5 833,358.5 L873.5,344.7 V387.5" stroke-width="1.95"/>
<path d="M808.4,366.7 Q822,364 833,358.5" stroke-width="1.8"/>
<rect x="800.4" y="361" width="5" height="5.2" stroke-width="1.5" fill="#231815"/>
<circle cx="802.9" cy="363.6" r="1" stroke-width="0.75" fill="#f3f3f3"/>
<line x1="804" y1="368" x2="815.3" y2="383.4" stroke-width="2.59"/>
<path d="M982.5,184.5 Q986,190 1007.5,192.5 L1029,198.5 Q1034.5,200.5 1035,207.5 L1040,300 L1045.8,350" stroke-width="1.95"/>
<path d="M1002.5,201 Q1014,203 1018.5,211 Q1020,214 1019.5,220 L1015.2,326" stroke-width="1.95"/>
<rect x="978.8" y="200" width="23.7" height="12.5" stroke-width="1.95"/>
<line x1="990" y1="204" x2="990" y2="208" stroke-width="2.1"/>
<line x1="973" y1="213.8" x2="1002.5" y2="213.8" stroke-width="1.8"/>
<path d="M1004.5,212.5 V306 Q1004,318.6 990,318.8 H937.5" stroke-width="1.95"/>
<line x1="1001" y1="265.8" x2="1008" y2="265.8" stroke-width="1.5"/>
<path d="M910,240.6 H924" stroke-width="1.8"/>
<path d="M909.6,294 A24,24 0 0 1 909.6,342" stroke-width="2.4"/>
<path d="M909.6,296.2 A21.8,21.8 0 0 1 909.6,339.8" stroke-width="1.8"/>
<path d="M909.6,298.4 A19.6,19.6 0 0 1 909.6,337.6" stroke-width="2.4"/>
<path d="M909.6,302.8 A15.2,15.2 0 0 1 909.6,333.2" stroke-width="2.25"/>
<path d="M909.6,307.6 A10.4,10.4 0 0 1 909.6,328.4" stroke-width="2.25"/>
<path d="M909.6,312.6 A5.4,5.4 0 0 1 909.6,323.4" stroke-width="2.1"/>
<path d="M933,312 L939,316 V320 L933,324" stroke-width="1.8"/>
<line x1="991" y1="320" x2="1002.5" y2="328.8" stroke-width="2.81"/>
<path d="M909.6,352.5 H1041.5 Q1046.3,352.5 1046.3,357.5 V397 Q1046.3,402.5 1041,402.5 H909.6" stroke-width="1.95"/>
<rect x="988.8" y="348.8" width="40.7" height="3.7" stroke-width="1.65"/>
<path d="M991.3,348.8 V334 L994,330 H1025 L1027.5,334 V348.8" stroke-width="1.95"/>
<path d="M994,330 Q997,328.6 1000,330 Q1009.3,327.6 1018.8,330 Q1022,328.6 1025,330" stroke-width="1.5"/>
<line x1="1000" y1="330.3" x2="1000" y2="348.8" stroke-width="1.8"/>
<line x1="1018.8" y1="330.3" x2="1018.8" y2="348.8" stroke-width="1.8"/>
<line x1="1009.3" y1="326" x2="1009.3" y2="440" stroke-width="1.35" stroke-dasharray="16 3 4 3"/>
<line x1="1000" y1="402.5" x2="1000" y2="434.5" stroke-width="1.8"/>
<line x1="1002.3" y1="402.5" x2="1002.3" y2="434.8" stroke-width="1.5"/>
<line x1="1017.5" y1="402.5" x2="1017.5" y2="439.5" stroke-width="1.8"/>
<line x1="1028" y1="402.5" x2="1028" y2="446" stroke-width="1.8"/>
<rect x="910.6" y="357" width="71.4" height="42" stroke-width="2.55" rx="2.5"/>
<circle cx="977.6" cy="378.3" r="1.9" stroke-width="1.5"/>
<path d="M909.6,416.4 L918.8,414.8 C935,419 945,425 957.5,426.3 L1005,435.2 Q1017,439 1025,442.6" stroke-width="1.95"/>
<line x1="791.6" y1="383" x2="791.6" y2="547" stroke-width="1.5"/>
<line x1="794.4" y1="383" x2="794.4" y2="547" stroke-width="1.5"/>
<line x1="793" y1="384" x2="793" y2="547" stroke-width="1.8" stroke-dasharray="3 2"/>
<path d="M791.6,547 Q792,556.5 800,557.2 H814" stroke-width="1.65"/>
<path d="M794.4,547 Q795,554 801,554.4 H814" stroke-width="1.65"/>
<line x1="1024.8" y1="442.6" x2="1024.8" y2="547" stroke-width="1.5"/>
<line x1="1027.6" y1="442.6" x2="1027.6" y2="547" stroke-width="1.5"/>
<line x1="1026.2" y1="443.6" x2="1026.2" y2="547" stroke-width="1.8" stroke-dasharray="3 2"/>
<path d="M1027.6,547 Q1027,556.5 1019.2,557.2 H1005.4" stroke-width="1.65"/>
<path d="M1024.8,547 Q1024,554 1018.2,554.4 H1005.4" stroke-width="1.65"/>
<path d="M815.3,383 H838 V385.5 H850 V388.8 H815.3 Z" stroke-width="1.5" fill="#231815"/>
<line x1="816.2" y1="383" x2="816.2" y2="558.5" stroke-width="3.02"/>
<line x1="1004.3" y1="433.5" x2="1004.3" y2="558.5" stroke-width="3.02"/>
<line x1="898.5" y1="388" x2="898.5" y2="546.5" stroke-width="4.97"/>
<line x1="920.8" y1="414.5" x2="920.8" y2="546.5" stroke-width="4.97"/>
<line x1="816.5" y1="388.8" x2="897" y2="388.8" stroke-width="3.02"/>
<path d="M823,388.8 L823,398.3 L897,398.3" stroke-width="2.48"/>
<line x1="885" y1="388.8" x2="885" y2="398.3" stroke-width="2.4"/>
<rect x="832.4" y="400.8" width="52.2" height="6.2" stroke-width="2.48"/>
<line x1="884.6" y1="400.8" x2="897" y2="400.8" stroke-width="2.48"/>
<line x1="816.5" y1="410.2" x2="873" y2="410.2" stroke-width="2.48"/>
<rect x="873.7" y="407.4" width="10.9" height="8.2" stroke-width="1.5" fill="#231815"/>
<rect x="877" y="412.2" width="6" height="2.4" stroke-width="0.9" fill="#f3f3f3"/>
<line x1="816.5" y1="416.9" x2="897" y2="416.9" stroke-width="3.02"/>
<circle cx="818.4" cy="414.3" r="2.7" stroke-width="1.5" fill="#231815"/>
<path d="M823,416.9 L823,426.4 L897,426.4" stroke-width="2.48"/>
<line x1="885" y1="416.9" x2="885" y2="426.4" stroke-width="2.4"/>
<rect x="832.4" y="428.9" width="52.2" height="6.2" stroke-width="2.48"/>
<line x1="884.6" y1="428.9" x2="897" y2="428.9" stroke-width="2.48"/>
<line x1="816.5" y1="438.3" x2="873" y2="438.3" stroke-width="2.48"/>
<rect x="873.7" y="435.5" width="10.9" height="8.2" stroke-width="1.5" fill="#231815"/>
<rect x="877" y="440.3" width="6" height="2.4" stroke-width="0.9" fill="#f3f3f3"/>
<line x1="816.5" y1="445" x2="897" y2="445" stroke-width="3.02"/>
<circle cx="818.4" cy="442.4" r="2.7" stroke-width="1.5" fill="#231815"/>
<path d="M823,445 L823,454.5 L897,454.5" stroke-width="2.48"/>
<line x1="885" y1="445" x2="885" y2="454.5" stroke-width="2.4"/>
<rect x="832.4" y="457" width="52.2" height="6.2" stroke-width="2.48"/>
<line x1="884.6" y1="457" x2="897" y2="457" stroke-width="2.48"/>
<line x1="816.5" y1="466.4" x2="873" y2="466.4" stroke-width="2.48"/>
<rect x="873.7" y="463.6" width="10.9" height="8.2" stroke-width="1.5" fill="#231815"/>
<rect x="877" y="468.4" width="6" height="2.4" stroke-width="0.9" fill="#f3f3f3"/>
<line x1="816.5" y1="473.1" x2="897" y2="473.1" stroke-width="3.02"/>
<circle cx="818.4" cy="470.5" r="2.7" stroke-width="1.5" fill="#231815"/>
<path d="M823,473.1 L823,482.6 L897,482.6" stroke-width="2.48"/>
<line x1="885" y1="473.1" x2="885" y2="482.6" stroke-width="2.4"/>
<rect x="832.4" y="485.1" width="52.2" height="6.2" stroke-width="2.48"/>
<line x1="884.6" y1="485.1" x2="897" y2="485.1" stroke-width="2.48"/>
<line x1="816.5" y1="494.5" x2="873" y2="494.5" stroke-width="2.48"/>
<rect x="873.7" y="491.7" width="10.9" height="8.2" stroke-width="1.5" fill="#231815"/>
<rect x="877" y="496.5" width="6" height="2.4" stroke-width="0.9" fill="#f3f3f3"/>
<line x1="816.5" y1="501.2" x2="897" y2="501.2" stroke-width="3.02"/>
<circle cx="818.4" cy="498.6" r="2.7" stroke-width="1.5" fill="#231815"/>
<path d="M823,501.2 L823,510.7 L897,510.7" stroke-width="2.48"/>
<line x1="885" y1="501.2" x2="885" y2="510.7" stroke-width="2.4"/>
<rect x="832.4" y="513.2" width="52.2" height="6.2" stroke-width="2.48"/>
<line x1="884.6" y1="513.2" x2="897" y2="513.2" stroke-width="2.48"/>
<line x1="816.5" y1="522.6" x2="873" y2="522.6" stroke-width="2.48"/>
<rect x="873.7" y="519.8" width="10.9" height="8.2" stroke-width="1.5" fill="#231815"/>
<rect x="877" y="524.6" width="6" height="2.4" stroke-width="0.9" fill="#f3f3f3"/>
<line x1="816.5" y1="529.3" x2="897" y2="529.3" stroke-width="3.02"/>
<circle cx="818.4" cy="526.7" r="2.7" stroke-width="1.5" fill="#231815"/>
<path d="M823,529.3 L823,538.8 L897,538.8" stroke-width="2.48"/>
<line x1="885" y1="529.3" x2="885" y2="538.8" stroke-width="2.4"/>
<rect x="832.4" y="541.3" width="52.2" height="6.2" stroke-width="2.48"/>
<line x1="884.6" y1="541.3" x2="897" y2="541.3" stroke-width="2.48"/>
<line x1="816.5" y1="550.7" x2="873" y2="550.7" stroke-width="2.48"/>
<rect x="873.7" y="547.9" width="10.9" height="8.2" stroke-width="1.5" fill="#231815"/>
<rect x="877" y="552.7" width="6" height="2.4" stroke-width="0.9" fill="#f3f3f3"/>
<line x1="815" y1="557.4" x2="1005.6" y2="557.4" stroke-width="3.24"/>
<rect x="934.6" y="428.9" width="52.2" height="6.2" stroke-width="2.48"/>
<line x1="934.6" y1="428.9" x2="922.2" y2="428.9" stroke-width="2.48"/>
<line x1="1002.7" y1="438.3" x2="946.2" y2="438.3" stroke-width="2.48"/>
<rect x="934.6" y="435.5" width="10.9" height="8.2" stroke-width="1.5" fill="#231815"/>
<rect x="936.2" y="440.3" width="6" height="2.4" stroke-width="0.9" fill="#f3f3f3"/>
<line x1="923" y1="428.9" x2="981.8" y2="428.9" stroke-width="2.48"/>
<line x1="1002.7" y1="445" x2="922.2" y2="445" stroke-width="3.02"/>
<circle cx="1000.8" cy="442.4" r="2.7" stroke-width="1.5" fill="#231815"/>
<path d="M996.2,445 L996.2,454.5 L922.2,454.5" stroke-width="2.48"/>
<line x1="934.2" y1="445" x2="934.2" y2="454.5" stroke-width="2.4"/>
<rect x="934.6" y="457" width="52.2" height="6.2" stroke-width="2.48"/>
<line x1="934.6" y1="457" x2="922.2" y2="457" stroke-width="2.48"/>
<line x1="1002.7" y1="466.4" x2="946.2" y2="466.4" stroke-width="2.48"/>
<rect x="934.6" y="463.6" width="10.9" height="8.2" stroke-width="1.5" fill="#231815"/>
<rect x="936.2" y="468.4" width="6" height="2.4" stroke-width="0.9" fill="#f3f3f3"/>
<line x1="1002.7" y1="473.1" x2="922.2" y2="473.1" stroke-width="3.02"/>
<circle cx="1000.8" cy="470.5" r="2.7" stroke-width="1.5" fill="#231815"/>
<path d="M996.2,473.1 L996.2,482.6 L922.2,482.6" stroke-width="2.48"/>
<line x1="934.2" y1="473.1" x2="934.2" y2="482.6" stroke-width="2.4"/>
<rect x="934.6" y="485.1" width="52.2" height="6.2" stroke-width="2.48"/>
<line x1="934.6" y1="485.1" x2="922.2" y2="485.1" stroke-width="2.48"/>
<line x1="1002.7" y1="494.5" x2="946.2" y2="494.5" stroke-width="2.48"/>
<rect x="934.6" y="491.7" width="10.9" height="8.2" stroke-width="1.5" fill="#231815"/>
<rect x="936.2" y="496.5" width="6" height="2.4" stroke-width="0.9" fill="#f3f3f3"/>
<line x1="1002.7" y1="501.2" x2="922.2" y2="501.2" stroke-width="3.02"/>
<circle cx="1000.8" cy="498.6" r="2.7" stroke-width="1.5" fill="#231815"/>
<path d="M996.2,501.2 L996.2,510.7 L922.2,510.7" stroke-width="2.48"/>
<line x1="934.2" y1="501.2" x2="934.2" y2="510.7" stroke-width="2.4"/>
<rect x="934.6" y="513.2" width="52.2" height="6.2" stroke-width="2.48"/>
<line x1="934.6" y1="513.2" x2="922.2" y2="513.2" stroke-width="2.48"/>
<line x1="1002.7" y1="522.6" x2="946.2" y2="522.6" stroke-width="2.48"/>
<rect x="934.6" y="519.8" width="10.9" height="8.2" stroke-width="1.5" fill="#231815"/>
<rect x="936.2" y="524.6" width="6" height="2.4" stroke-width="0.9" fill="#f3f3f3"/>
<line x1="1002.7" y1="529.3" x2="922.2" y2="529.3" stroke-width="3.02"/>
<circle cx="1000.8" cy="526.7" r="2.7" stroke-width="1.5" fill="#231815"/>
<path d="M996.2,529.3 L996.2,538.8 L922.2,538.8" stroke-width="2.48"/>
<line x1="934.2" y1="529.3" x2="934.2" y2="538.8" stroke-width="2.4"/>
<rect x="934.6" y="541.3" width="52.2" height="6.2" stroke-width="2.48"/>
<line x1="934.6" y1="541.3" x2="922.2" y2="541.3" stroke-width="2.48"/>
<line x1="1002.7" y1="550.7" x2="946.2" y2="550.7" stroke-width="2.48"/>
<rect x="934.6" y="547.9" width="10.9" height="8.2" stroke-width="1.5" fill="#231815"/>
<rect x="936.2" y="552.7" width="6" height="2.4" stroke-width="0.9" fill="#f3f3f3"/>
<rect x="888.5" y="527" width="7" height="11" stroke-width="1.8"/>
<rect x="924" y="527" width="7" height="11" stroke-width="1.8"/>
<rect x="898.2" y="549" width="22.7" height="12.6" stroke-width="2.1" fill="#f3f3f3"/>
<line x1="904.4" y1="549" x2="904.4" y2="561.6" stroke-width="1.8"/>
<line x1="915" y1="549" x2="915" y2="561.6" stroke-width="1.8"/>
<line x1="897.5" y1="563.4" x2="921.6" y2="563.4" stroke-width="3.67"/>
<rect x="898.4" y="565.3" width="22.4" height="10" stroke-width="1.8"/>
<path d="M701.3,500 H722.5 Q725,500 725,502.5 V511.3 H698.8 V502.5 Q698.8,500 701.3,500 Z" stroke-width="1.95" fill="url(#h4)"/>
<line x1="698.8" y1="511.3" x2="698.8" y2="535" stroke-width="1.95"/>
<line x1="725" y1="511.3" x2="725" y2="535" stroke-width="1.95"/>
<rect x="698.8" y="535" width="26.2" height="7.5" stroke-width="1.8" fill="url(#h4)"/>
<rect x="698.8" y="636.5" width="26.2" height="7.5" stroke-width="1.8" fill="url(#h4)"/>
<line x1="698.8" y1="644" x2="698.8" y2="666.5" stroke-width="1.95"/>
<line x1="725" y1="644" x2="725" y2="666.5" stroke-width="1.95"/>
<path d="M698.8,666.5 H725 V676.5 Q725,679 722.5,679 H701.3 Q698.8,679 698.8,676.5 Z" stroke-width="1.95" fill="url(#h4)"/>
<path d="M1097.5,500 H1118 Q1120.5,500 1120.5,502.5 V511.3 H1095 V502.5 Q1095,500 1097.5,500 Z" stroke-width="1.95" fill="url(#h4)"/>
<line x1="1095" y1="511.3" x2="1095" y2="535" stroke-width="1.95"/>
<line x1="1120.5" y1="511.3" x2="1120.5" y2="535" stroke-width="1.95"/>
<rect x="1095" y="535" width="25.5" height="7.5" stroke-width="1.8" fill="url(#h4)"/>
<rect x="1095" y="636.5" width="25.5" height="7.5" stroke-width="1.8" fill="url(#h4)"/>
<line x1="1095" y1="644" x2="1095" y2="666.5" stroke-width="1.95"/>
<line x1="1120.5" y1="644" x2="1120.5" y2="666.5" stroke-width="1.95"/>
<path d="M1095,666.5 H1120.5 V676.5 Q1120.5,679 1118,679 H1097.5 Q1095,679 1095,676.5 Z" stroke-width="1.95" fill="url(#h4)"/>
<line x1="695" y1="522.5" x2="728" y2="522.5" stroke-width="1.35" stroke-dasharray="4 3 14 3"/>
<line x1="695" y1="656.5" x2="728" y2="656.5" stroke-width="1.35" stroke-dasharray="4 3 14 3"/>
<line x1="1093" y1="522.5" x2="1124" y2="522.5" stroke-width="1.35" stroke-dasharray="14 3 4 3"/>
<line x1="1095" y1="656.5" x2="1124" y2="656.5" stroke-width="1.35" stroke-dasharray="14 3 4 3"/>
<path d="M695,542.5 H725 V553 Q725,557.5 729.5,557.5 H776.5 Q781.3,557.5 781.3,553 V539 Q781.3,533.8 786.5,533.8 H791.6 V547 Q792,556.5 800,557.2 H814 V552.8 H820.3 L822.1,565.3 H695 Z" stroke-width="1.95" fill="url(#h2)"/>
<circle cx="788.8" cy="542" r="2.3" stroke-width="1.5" fill="#f3f3f3"/>
<circle cx="708.8" cy="542.5" r="4" stroke-width="1.8" fill="#f3f3f3"/>
<line x1="708.8" y1="536.5" x2="708.8" y2="548.5" stroke-width="1.2"/>
<line x1="703" y1="542.5" x2="714.6" y2="542.5" stroke-width="1.2"/>
<line x1="695" y1="565.3" x2="695" y2="614.4" stroke-width="1.95"/>
<line x1="798.9" y1="565.3" x2="798.9" y2="614.4" stroke-width="1.95"/>
<line x1="822.6" y1="558.5" x2="822.6" y2="614.4" stroke-width="1.95"/>
<line x1="684.5" y1="589.5" x2="794" y2="589.5" stroke-width="1.35" stroke-dasharray="26 3 6 3"/>
<path d="M695,614.4 H876 V620.6 H729.5 Q725,620.6 725,625 V636.5 H695 Z" stroke-width="1.95" fill="url(#h2)"/>
<circle cx="708.4" cy="636.5" r="4" stroke-width="1.8" fill="#f3f3f3"/>
<line x1="708.4" y1="630.5" x2="708.4" y2="642.5" stroke-width="1.2"/>
<line x1="702.6" y1="636.5" x2="714.2" y2="636.5" stroke-width="1.2"/>
<path d="M1122.5,542.5 H1095 V553 Q1095,557.5 1090.5,557.5 H1043.5 Q1038.8,557.5 1038.8,553 V539 Q1038.8,533.8 1033.5,533.8 H1027.6 V547 Q1027,556.5 1019.2,557.2 H1005.4 V553 H996.3 V565.3 H1122.5 Z" stroke-width="1.95" fill="url(#h2)"/>
<circle cx="1030.5" cy="542" r="2.3" stroke-width="1.5" fill="#f3f3f3"/>
<circle cx="1109.5" cy="542.5" r="4" stroke-width="1.8" fill="#f3f3f3"/>
<line x1="1109.5" y1="536.5" x2="1109.5" y2="548.5" stroke-width="1.2"/>
<line x1="1103.7" y1="542.5" x2="1115.3" y2="542.5" stroke-width="1.2"/>
<line x1="1122.5" y1="565.3" x2="1122.5" y2="614.4" stroke-width="1.95"/>
<line x1="1021.3" y1="565.3" x2="1021.3" y2="614.4" stroke-width="1.95"/>
<line x1="1025" y1="589.5" x2="1135" y2="589.5" stroke-width="1.35" stroke-dasharray="26 3 6 3"/>
<path d="M996.3,565.3 H1003.6 V614.4 H996.3 Z" stroke-width="1.8" fill="url(#h2)"/>
<path d="M947.5,614.4 H1122.5 V636.5 H1093.8 V625 Q1093.8,620.6 1089.3,620.6 H947.5 Z" stroke-width="1.95" fill="url(#h2)"/>
<circle cx="1109.5" cy="636.5" r="4" stroke-width="1.8" fill="#f3f3f3"/>
<line x1="1109.5" y1="630.5" x2="1109.5" y2="642.5" stroke-width="1.2"/>
<line x1="1103.7" y1="636.5" x2="1115.3" y2="636.5" stroke-width="1.2"/>
<path d="M876,614.4 L876.6,591 C877.5,573 893,564.6 909.6,564.4 C927,564.6 942.5,573 948,594 L948.8,614.4" stroke-width="1.95"/>
<circle cx="909.6" cy="596.8" r="23.8" stroke-width="2.7"/>
<circle cx="909.6" cy="596.8" r="21.8" stroke-width="1.5"/>
<circle cx="909.6" cy="596.8" r="19.8" stroke-width="2.4"/>
<circle cx="909.6" cy="596.8" r="15.6" stroke-width="2.4"/>
<circle cx="909.6" cy="596.8" r="9.2" stroke-width="2.25"/>
<path d="M921.4,596.8 L915.5,607.02 L903.7,607.02 L897.8,596.8 L903.7,586.58 L915.5,586.58 Z" stroke-width="2.25"/>
<line x1="880" y1="596.8" x2="940" y2="596.8" stroke-width="1.35"/>
<path d="M790.8,620.7 L801.4,620.7 L801.4,648 L803.3,655.3 L793.3,664 L793.3,706.5 L782.4,706.5 L782.4,660 L784.5,656.5 L790,654 L792.6,629 L790.8,628 Z" stroke-width="1.95" fill="url(#h3)"/>
<path d="M803.3,655.3 L855.5,703.7 L832.9,703.7 L798.3,667.9 L793.3,664.5 L797,658.5 Z" stroke-width="1.95" fill="#f3f3f3"/>
<line x1="793.3" y1="659.6" x2="839.8" y2="703.7" stroke-width="1.8"/>
<path d="M844.2,693.4 L892.6,693.4 L892.6,703.7 L855.5,703.7 Z" stroke-width="1.95" fill="url(#h3)"/>
<line x1="802" y1="620.7" x2="802" y2="631" stroke-width="1.65"/>
<line x1="801.6" y1="637" x2="803.5" y2="655" stroke-width="1.35"/>
<path d="M1028.4,620.7 L1017.8,620.7 L1017.8,648 L1015.9,655.3 L1025.9,664 L1025.9,706.5 L1036.8,706.5 L1036.8,660 L1034.7,656.5 L1029.2,654 L1026.6,629 L1028.4,628 Z" stroke-width="1.95" fill="url(#h1)"/>
<path d="M1015.9,655.3 L963.7,703.7 L986.3,703.7 L1020.9,667.9 L1025.9,664.5 L1022.2,658.5 Z" stroke-width="1.95" fill="#f3f3f3"/>
<line x1="1025.9" y1="659.6" x2="979.4" y2="703.7" stroke-width="1.8"/>
<path d="M975,693.4 L926.6,693.4 L926.6,703.7 L963.7,703.7 Z" stroke-width="1.95" fill="url(#h1)"/>
<line x1="1017.2" y1="620.7" x2="1017.2" y2="631" stroke-width="1.65"/>
<line x1="1017.6" y1="637" x2="1015.7" y2="655" stroke-width="1.35"/>
<path d="M782.4,706.5 L824,706.5 L824,704.5 L995.2,704.5 L995.2,706.5 L1036.8,706.5" stroke-width="1.95"/>
<line x1="892.6" y1="693.4" x2="926.6" y2="693.4" stroke-width="1.8"/>
<line x1="796.4" y1="632" x2="1022.8" y2="632" stroke-width="2.25"/>
<line x1="796.4" y1="636.4" x2="1022.8" y2="636.4" stroke-width="2.25"/>
<line x1="647" y1="150.8" x2="678.8" y2="150.8" stroke-width="1.5"/>
<line x1="678.8" y1="150.8" x2="786.3" y2="163.8" stroke-width="1.35"/>
<text transform="translate(647.4,148) scale(1.16,1)" font-size="18.3" text-anchor="start" stroke="#f3f3f3" stroke-width="0.12">1</text>
<line x1="647" y1="201.3" x2="678.8" y2="201.3" stroke-width="1.5"/>
<line x1="678.8" y1="201.3" x2="782.5" y2="204.5" stroke-width="1.35"/>
<text transform="translate(647.4,194.5) scale(1.16,1)" font-size="18.3" text-anchor="start" stroke="#f3f3f3" stroke-width="0.12">2</text>
<line x1="647" y1="242" x2="678.8" y2="242" stroke-width="1.5"/>
<line x1="678.8" y1="242" x2="855" y2="308.8" stroke-width="1.35"/>
<text transform="translate(647.4,237.5) scale(1.16,1)" font-size="18.3" text-anchor="start" stroke="#f3f3f3" stroke-width="0.12">3</text>
<line x1="647" y1="285.8" x2="678.8" y2="285.8" stroke-width="1.5"/>
<line x1="678.8" y1="285.8" x2="886.3" y2="328.8" stroke-width="1.35"/>
<text transform="translate(647.4,280.8) scale(1.16,1)" font-size="18.3" text-anchor="start" stroke="#f3f3f3" stroke-width="0.12">4</text>
<line x1="647" y1="327.5" x2="678.8" y2="327.5" stroke-width="1.5"/>
<line x1="678.8" y1="327.5" x2="800" y2="356.3" stroke-width="1.35"/>
<text transform="translate(647.4,323.3) scale(1.16,1)" font-size="18.3" text-anchor="start" stroke="#f3f3f3" stroke-width="0.12">5</text>
<line x1="647" y1="385" x2="678.8" y2="385" stroke-width="1.5"/>
<line x1="678.8" y1="385" x2="812.5" y2="453.8" stroke-width="1.35"/>
<text transform="translate(647.4,381.3) scale(1.16,1)" font-size="18.3" text-anchor="start" stroke="#f3f3f3" stroke-width="0.12">6</text>
<line x1="647" y1="442.5" x2="678.8" y2="442.5" stroke-width="1.5"/>
<line x1="678.8" y1="442.5" x2="812.5" y2="505" stroke-width="1.35"/>
<text transform="translate(647.4,437) scale(1.16,1)" font-size="18.3" text-anchor="start" stroke="#f3f3f3" stroke-width="0.12">7</text>
<line x1="647" y1="475.8" x2="678.8" y2="475.8" stroke-width="1.5"/>
<line x1="678.8" y1="475.8" x2="812.5" y2="536.3" stroke-width="1.35"/>
<text transform="translate(647.4,471.3) scale(1.16,1)" font-size="18.3" text-anchor="start" stroke="#f3f3f3" stroke-width="0.12">8</text>
<line x1="647" y1="531.3" x2="678.8" y2="531.3" stroke-width="1.5"/>
<line x1="678.8" y1="531.3" x2="706" y2="545" stroke-width="1.35"/>
<text transform="translate(647.4,526.8) scale(1.16,1)" font-size="18.3" text-anchor="start" stroke="#f3f3f3" stroke-width="0.12">9</text>
<line x1="647" y1="628.3" x2="678.8" y2="628.3" stroke-width="1.5"/>
<line x1="678.8" y1="628.3" x2="780" y2="672.8" stroke-width="1.35"/>
<text transform="translate(647.8,624) scale(1.16,1)" font-size="18.3" text-anchor="start" stroke="#f3f3f3" stroke-width="0.12">10</text>
<line x1="1119" y1="220" x2="1159" y2="220" stroke-width="1.5"/>
<line x1="1119" y1="220" x2="890" y2="254.5" stroke-width="1.35"/>
<text transform="translate(1138.8,217.8) scale(1.16,1)" font-size="18.3" text-anchor="start" stroke="#f3f3f3" stroke-width="0.12">16</text>
<line x1="1121" y1="409.3" x2="1159" y2="409.3" stroke-width="1.5"/>
<line x1="1121" y1="409.3" x2="1028.8" y2="446.3" stroke-width="1.35"/>
<text transform="translate(1138.8,405.5) scale(1.16,1)" font-size="18.3" text-anchor="start" stroke="#f3f3f3" stroke-width="0.12">15</text>
<line x1="1121" y1="469.3" x2="1159" y2="469.3" stroke-width="1.5"/>
<line x1="1121" y1="469.3" x2="932.5" y2="465" stroke-width="1.35"/>
<text transform="translate(1138.8,465) scale(1.16,1)" font-size="18.3" text-anchor="start" stroke="#f3f3f3" stroke-width="0.12">14</text>
<line x1="1121" y1="501.8" x2="1159" y2="501.8" stroke-width="1.5"/>
<line x1="1121" y1="501.8" x2="908.8" y2="483.8" stroke-width="1.35"/>
<text transform="translate(1138.8,498.8) scale(1.16,1)" font-size="18.3" text-anchor="start" stroke="#f3f3f3" stroke-width="0.12">13</text>
<line x1="1121" y1="532" x2="1159" y2="532" stroke-width="1.5"/>
<line x1="1121" y1="532" x2="985" y2="516.3" stroke-width="1.35"/>
<text transform="translate(1138.8,528) scale(1.16,1)" font-size="18.3" text-anchor="start" stroke="#f3f3f3" stroke-width="0.12">12</text>
<line x1="1121" y1="572.5" x2="1159" y2="572.5" stroke-width="1.5"/>
<line x1="1121" y1="572.5" x2="927.5" y2="532.5" stroke-width="1.35"/>
<text transform="translate(1138.8,566.3) scale(1.16,1)" font-size="18.3" text-anchor="start" stroke="#f3f3f3" stroke-width="0.12">11</text>
<text transform="translate(878,744.6) scale(1,1)" font-size="25.5" text-anchor="start" stroke="#f3f3f3" stroke-width="0.12" letter-spacing="0.8">CDLF</text>
</g>
</svg>
</body>
</html>
